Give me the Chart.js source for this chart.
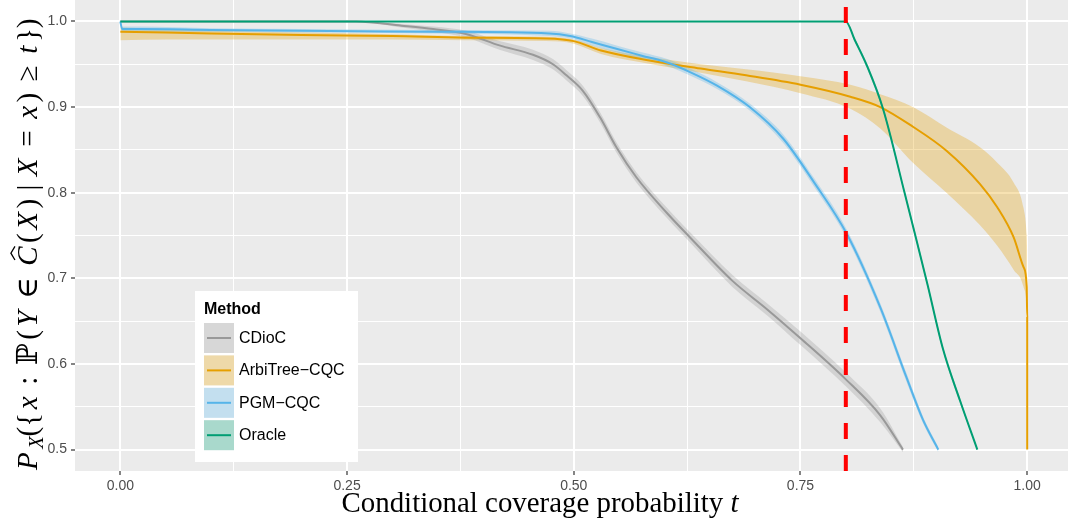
<!DOCTYPE html>
<html>
<head>
<meta charset="utf-8">
<script src="https://cdn.jsdelivr.net/npm/chart.js@4.4.1/dist/chart.umd.min.js"></script>
<style>
  html, body { margin: 0; padding: 0; background: #ffffff; }
  canvas { display: block; }
</style>
</head>
<body>
<canvas id="myChart" width="1068" height="523"></canvas>
<script>
// values
var methods = ["CDioC", "ArbiTree\u2212CQC", "PGM\u2212CQC", "Oracle"];
var lineColors = ["#999999", "#E69F00", "#56B4E9", "#009E73"];
var ribbonColors = ["rgba(153,153,153,0.3)", "rgba(230,159,0,0.3)", "rgba(86,180,233,0.3)", "rgba(0,158,115,0.3)"];

var cdiocX = [0, 0.26, 0.31, 0.345, 0.382, 0.418, 0.455, 0.477, 0.492, 0.51, 0.529, 0.547, 0.569, 0.603, 0.628, 0.675, 0.713, 0.75, 0.80, 0.838, 0.863];
var cdiocY = [1.0, 1.0, 0.995, 0.991, 0.985, 0.972, 0.961, 0.950, 0.937, 0.919, 0.888, 0.853, 0.818, 0.776, 0.748, 0.697, 0.664, 0.630, 0.582, 0.540, 0.500];
var cdiocLo = [1.0, 1.0, 0.993, 0.988, 0.981, 0.967, 0.955, 0.944, 0.931, 0.913, 0.882, 0.847, 0.812, 0.770, 0.742, 0.690, 0.657, 0.622, 0.574, 0.532, 0.497];
var cdiocHi = [1.0, 1.0, 0.997, 0.994, 0.989, 0.977, 0.967, 0.956, 0.943, 0.925, 0.894, 0.859, 0.824, 0.782, 0.754, 0.704, 0.671, 0.638, 0.590, 0.548, 0.503];

var arbiX = [0, 0.05, 0.1, 0.2, 0.3, 0.38, 0.47, 0.5, 0.53, 0.58, 0.64, 0.69, 0.75, 0.805, 0.838, 0.874, 0.911, 0.948, 0.967, 0.985, 0.996, 0.9995, 1.0, 1.0];
var arbiY = [0.988, 0.987, 0.986, 0.984, 0.983, 0.981, 0.980, 0.977, 0.966, 0.955, 0.945, 0.937, 0.926, 0.912, 0.900, 0.877, 0.849, 0.810, 0.783, 0.748, 0.713, 0.690, 0.655, 0.500];
var arbiLo = [0.978, 0.979, 0.979, 0.979, 0.979, 0.978, 0.977, 0.974, 0.962, 0.951, 0.940, 0.930, 0.916, 0.898, 0.875, 0.835, 0.800, 0.762, 0.738, 0.710, 0.690, 0.666, 0.650, 0.500];
var arbiHi = [0.993, 0.991, 0.989, 0.987, 0.985, 0.983, 0.982, 0.979, 0.969, 0.959, 0.950, 0.944, 0.936, 0.926, 0.915, 0.900, 0.876, 0.853, 0.835, 0.812, 0.782, 0.750, 0.735, 0.500];

var pgmX = [0, 0.002, 0.02, 0.1, 0.2, 0.344, 0.473, 0.496, 0.52, 0.547, 0.575, 0.603, 0.63, 0.658, 0.694, 0.731, 0.765, 0.801, 0.838, 0.867, 0.885, 0.902];
var pgmY = [1.0, 0.991, 0.991, 0.990, 0.989, 0.988, 0.986, 0.983, 0.976, 0.968, 0.960, 0.952, 0.940, 0.925, 0.900, 0.863, 0.812, 0.752, 0.666, 0.584, 0.535, 0.500];
var pgmLo = [1.0, 0.988, 0.988, 0.988, 0.987, 0.986, 0.983, 0.980, 0.972, 0.964, 0.956, 0.948, 0.936, 0.921, 0.896, 0.858, 0.807, 0.747, 0.661, 0.579, 0.531, 0.497];
var pgmHi = [1.0, 0.994, 0.994, 0.992, 0.991, 0.990, 0.989, 0.986, 0.980, 0.972, 0.964, 0.956, 0.944, 0.929, 0.904, 0.868, 0.817, 0.757, 0.671, 0.589, 0.539, 0.503];

var oracleX = [0, 0.8, 0.81, 0.823, 0.841, 0.865, 0.879, 0.89, 0.907, 0.926, 0.945];
var oracleY = [1.0, 1.0, 0.978, 0.949, 0.898, 0.799, 0.740, 0.693, 0.618, 0.557, 0.500];
var oracleLo = [1.0, 1.0, 0.976, 0.946, 0.895, 0.796, 0.737, 0.690, 0.615, 0.554, 0.500];
var oracleHi = [1.0, 1.0, 0.980, 0.952, 0.901, 0.802, 0.743, 0.696, 0.621, 0.560, 0.500];

var cutoffT = 0.8;

var xMajor = [0, 0.25, 0.5, 0.75, 1.0];
var xMajorLabels = ["0.00", "0.25", "0.50", "0.75", "1.00"];
var xMinor = [0.125, 0.375, 0.625, 0.875];
var yMajor = [0.5, 0.6, 0.7, 0.8, 0.9, 1.0];
var yMajorLabels = ["0.5", "0.6", "0.7", "0.8", "0.9", "1.0"];
var yMinor = [0.55, 0.65, 0.75, 0.85, 0.95];

var xTitle = "Conditional coverage probability ";
var xTitleVar = "t";
var legendTitle = "Method";

var seriesX = [cdiocX, arbiX, pgmX, oracleX];
var seriesY = [cdiocY, arbiY, pgmY, oracleY];
var seriesLo = [cdiocLo, arbiLo, pgmLo, oracleLo];
var seriesHi = [cdiocHi, arbiHi, pgmHi, oracleHi];

function pts(xs, ys) {
  return xs.map((x, i) => ({ x: x, y: ys[i] }));
}

function majorIndex(list, v) {
  for (var i = 0; i < list.length; i++) {
    if (Math.abs(list[i] - v) < 1e-9) return i;
  }
  return -1;
}

// ribbons first (lo + hi filled to lo), then lines on top
var datasets = [];
methods.forEach((m, i) => {
  datasets.push({
    label: m + " lo",
    data: pts(seriesX[i], seriesLo[i]),
    borderWidth: 0,
    borderColor: "rgba(0,0,0,0)",
    pointRadius: 0,
    fill: false,
    cubicInterpolationMode: "monotone",
    order: 100 - i * 2,
  });
  datasets.push({
    label: m + " hi",
    data: pts(seriesX[i], seriesHi[i]),
    borderWidth: 0,
    borderColor: "rgba(0,0,0,0)",
    backgroundColor: ribbonColors[i],
    pointRadius: 0,
    fill: "-1",
    cubicInterpolationMode: "monotone",
    order: 99 - i * 2,
  });
});
methods.forEach((m, i) => {
  datasets.push({
    label: m,
    data: pts(seriesX[i], seriesY[i]),
    borderColor: lineColors[i],
    borderWidth: 2,
    pointRadius: 0,
    fill: false,
    cubicInterpolationMode: "monotone",
    order: 50 - i,
  });
});

var panelPlugin = {
  id: "panel",
  beforeDraw(chart) {
    var c = chart.ctx, a = chart.chartArea;
    c.save();
    c.fillStyle = "#ffffff";
    c.fillRect(0, 0, chart.width, chart.height);
    c.fillStyle = "#EBEBEB";
    c.fillRect(a.left, a.top, a.right - a.left, a.bottom - a.top);
    c.restore();
  },
};

var cutoffPlugin = {
  id: "cutoff",
  afterDatasetsDraw(chart) {
    var c = chart.ctx, a = chart.chartArea;
    var x = chart.scales.x.getPixelForValue(cutoffT);
    c.save();
    c.strokeStyle = "#FF0000";
    c.lineWidth = 4;
    c.setLineDash([16, 16]);
    c.beginPath();
    c.moveTo(x, a.bottom);
    c.lineTo(x, a.top);
    c.stroke();
    c.restore();
  },
};

var serif = "'Liberation Serif', 'DejaVu Serif', serif";

var yTitleRuns = [
  { t: "P", it: true },
  { t: "X", it: true, sub: true },
  { t: "({" },
  { t: "x", it: true },
  { t: ":", pre: 0.28, post: 0.28 },
  { t: "\u2119" },
  { t: "(" },
  { t: "Y", it: true },
  { t: "\u2208", pre: 0.28, post: 0.28 },
  { t: "C", it: true, hat: true },
  { t: "(" },
  { t: "X", it: true },
  { t: ")" },
  { t: "|", pre: 0.17, post: 0.17 },
  { t: "X", it: true },
  { t: "=", pre: 0.28, post: 0.28 },
  { t: "x", it: true },
  { t: ")" },
  { t: "\u2265", pre: 0.28, post: 0.28 },
  { t: "t", it: true },
  { t: "})" },
];

function runFont(r, size) {
  var s = r.sub ? size * 0.7 : size;
  return (r.it ? "italic " : "") + s.toFixed(2) + "px " + serif;
}

function runsWidth(c, runs, size) {
  var w = 0;
  runs.forEach((r) => {
    c.font = runFont(r, size);
    w += (r.pre || 0) * size + c.measureText(r.t).width + (r.post || 0) * size;
  });
  return w;
}

var titlesPlugin = {
  id: "titles",
  afterDraw(chart) {
    var c = chart.ctx;
    c.save();
    c.fillStyle = "#000000";
    c.textBaseline = "alphabetic";

    // x title, fitted to the reference width
    var runsX = [{ t: xTitle }, { t: xTitleVar, it: true }];
    var sx = 24 * 397 / runsWidth(c, runsX, 24);
    var wx = runsWidth(c, runsX, sx);
    var px = 540 - wx / 2;
    runsX.forEach((r) => {
      c.font = runFont(r, sx);
      c.fillText(r.t, px, 512);
      px += c.measureText(r.t).width;
    });

    // y title, rotated; size fixed, spare length spread between pieces
    var sy = 29;
    var extra = (455 - runsWidth(c, yTitleRuns, sy)) / (yTitleRuns.length - 1);
    if (extra < 0) extra = 0;
    c.translate(37, 470);
    c.rotate(-Math.PI / 2);
    var p = 0;
    yTitleRuns.forEach((r, i) => {
      p += (r.pre || 0) * sy;
      c.font = runFont(r, sy);
      var w = c.measureText(r.t).width;
      c.fillText(r.t, p, r.sub ? sy * 0.22 : 0);
      if (r.hat) {
        c.strokeStyle = "#000000";
        c.lineWidth = 1.3;
        c.beginPath();
        c.moveTo(p + w * 0.3, -sy * 0.76);
        c.lineTo(p + w * 0.65, -sy * 0.9);
        c.lineTo(p + w * 1.0, -sy * 0.76);
        c.stroke();
      }
      p += w + (r.post || 0) * sy + (r.sub ? 0 : extra);
    });
    c.restore();
  },
};

var legendPlugin = {
  id: "methodLegend",
  afterDraw(chart) {
    var c = chart.ctx;
    c.save();
    c.fillStyle = "#ffffff";
    c.fillRect(195, 291, 163, 171);
    c.fillStyle = "#000000";
    c.font = "bold 16px 'Liberation Sans', Arial, sans-serif";
    c.textBaseline = "alphabetic";
    c.fillText(legendTitle, 204, 314);
    methods.forEach((m, i) => {
      var ky = 323 + i * 32.4;
      c.fillStyle = "#F2F2F2";
      c.fillRect(204, ky, 30, 30);
      c.fillStyle = ribbonColors[i];
      c.fillRect(204, ky, 30, 30);
      c.strokeStyle = lineColors[i];
      c.lineWidth = 2;
      c.beginPath();
      c.moveTo(207, ky + 15);
      c.lineTo(231, ky + 15);
      c.stroke();
      c.fillStyle = "#000000";
      c.font = "16px 'Liberation Sans', Arial, sans-serif";
      c.textBaseline = "middle";
      c.fillText(m, 239, ky + 15.5);
    });
    c.restore();
  },
};

var ctx = document.getElementById("myChart").getContext("2d");
var myChart = new Chart(ctx, {
  type: "line",
  data: { datasets: datasets },
  options: {
    responsive: false,
    devicePixelRatio: 1,
    animation: false,
    layout: { padding: 0 },
    plugins: {
      legend: { display: false },
      tooltip: { enabled: false },
      filler: { propagate: false },
    },
    scales: {
      x: {
        type: "linear",
        min: -0.05,
        max: 1.045,
        afterBuildTicks: (scale) => {
          scale.ticks = xMajor.concat(xMinor).sort((a, b) => a - b).map((v) => ({ value: v }));
        },
        afterFit: (scale) => {
          scale.height = 52;
          scale.paddingLeft = 0;
          scale.paddingRight = 0;
        },
        border: { display: false },
        grid: {
          color: "#ffffff",
          lineWidth: (c) => (c.tick && majorIndex(xMajor, c.tick.value) >= 0 ? 2 : 1),
          tickLength: 4,
          tickWidth: 1.2,
          tickColor: (c) => (c.tick && majorIndex(xMajor, c.tick.value) >= 0 ? "#333333" : "rgba(0,0,0,0)"),
        },
        ticks: {
          autoSkip: false,
          maxRotation: 0,
          padding: 3,
          color: "#4D4D4D",
          font: { family: "'Liberation Sans', Arial, sans-serif", size: 14 },
          callback: (v) => {
            var k = majorIndex(xMajor, v);
            return k >= 0 ? xMajorLabels[k] : "";
          },
        },
      },
      y: {
        type: "linear",
        min: 0.475,
        max: 1.025,
        afterBuildTicks: (scale) => {
          scale.ticks = yMajor.concat(yMinor).sort((a, b) => a - b).map((v) => ({ value: v }));
        },
        afterFit: (scale) => {
          scale.width = 75;
          scale.paddingTop = 0;
          scale.paddingBottom = 0;
        },
        border: { display: false },
        grid: {
          color: "#ffffff",
          lineWidth: (c) => (c.tick && majorIndex(yMajor, c.tick.value) >= 0 ? 2 : 1),
          tickLength: 4,
          tickWidth: 1.2,
          tickColor: (c) => (c.tick && majorIndex(yMajor, c.tick.value) >= 0 ? "#333333" : "rgba(0,0,0,0)"),
        },
        ticks: {
          autoSkip: false,
          padding: 4,
          color: "#4D4D4D",
          font: { family: "'Liberation Sans', Arial, sans-serif", size: 14 },
          callback: (v) => {
            var k = majorIndex(yMajor, v);
            return k >= 0 ? yMajorLabels[k] : "";
          },
        },
      },
    },
  },
  plugins: [panelPlugin, cutoffPlugin, titlesPlugin, legendPlugin],
});
</script>
</body>
</html>
